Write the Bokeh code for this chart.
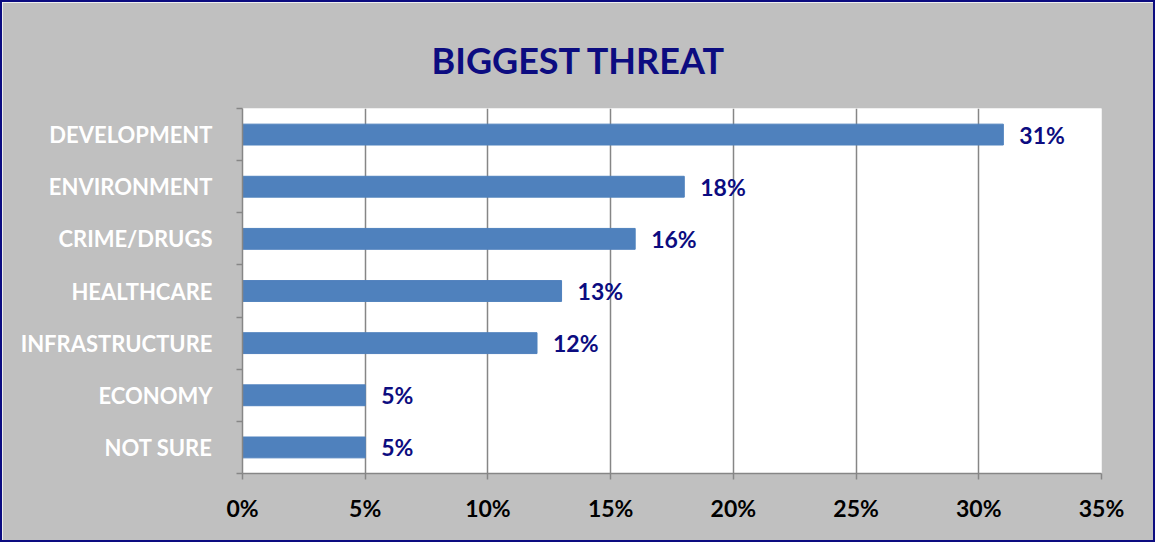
from bokeh.plotting import figure
from bokeh.layouts import column
from bokeh.models import FixedTicker, ColumnDataSource, NumeralTickFormatter
from bokeh.core.properties import value
from bokeh.embed import file_html
from bokeh.resources import INLINE

categories = ["DEVELOPMENT", "ENVIRONMENT", "CRIME/DRUGS", "HEALTHCARE", "INFRASTRUCTURE", "ECONOMY", "NOT SURE"]
shares = [0.31, 0.18, 0.16, 0.13, 0.12, 0.05, 0.05]
share_labels = ["31%", "18%", "16%", "13%", "12%", "5%", "5%"]
x_ticks = [0, 0.05, 0.10, 0.15, 0.20, 0.25, 0.30, 0.35]

FONT = "Lato"
n = len(categories)
centers = [n - i - 0.5 for i in range(n)]
boundaries = list(range(n + 1))

src = ColumnDataSource(dict(cat=categories, y=centers, v=shares, lab=share_labels))

B = 2  # chart border width
W, H = 1155 - 2 * B, 542 - 2 * B
BL, BR, BT, BB = 242 - B, 54 - B, 108 - B, 69 - B
p = figure(width=W, height=H, output_backend="svg", toolbar_location=None,
           x_range=(0, 0.35), y_range=(0, n),
           min_border_left=BL, min_border_right=BR, min_border_top=BT, min_border_bottom=BB,
           title="BIGGEST THREAT")
p.border_fill_color = "#C0C0C0"
p.background_fill_color = "white"
p.outline_line_color = None

p.title.align = "left"
p.title.offset = 189
p.title.standoff = 54
p.title.text_font = FONT
p.title.text_font_style = "bold"
p.title.text_font_size = "36px"
p.title.text_color = "#0C0C80"

p.hbar(y="y", right="v", left=0, height=0.4, source=src, color="#4F81BD")
p.text(x="v", y="y", text="lab", source=src, x_offset=16, text_align="left", text_baseline="middle",
       text_font=value(FONT), text_font_style="bold", text_font_size="23px", text_color="#0C0C80")

# x axis
p.xaxis.ticker = FixedTicker(ticks=x_ticks)
p.xaxis.formatter = NumeralTickFormatter(format="0%")
p.xaxis.axis_line_color = "#868686"
p.xaxis.axis_line_width = 1.5
p.xaxis.major_tick_line_color = "#868686"
p.xaxis.major_tick_line_width = 1.5
p.xaxis.major_tick_out = 6
p.xaxis.major_tick_in = 0
p.xaxis.minor_tick_line_color = None
p.xaxis.major_label_text_font = FONT
p.xaxis.major_label_text_font_style = "bold"
p.xaxis.major_label_text_font_size = "23px"
p.xaxis.major_label_text_color = "black"
p.xaxis.major_label_standoff = 14
p.xgrid.ticker = FixedTicker(ticks=x_ticks)
p.xgrid.grid_line_color = "#868686"
p.xgrid.grid_line_width = 1.5

# y axis
p.yaxis.ticker = FixedTicker(ticks=centers, minor_ticks=boundaries)
p.yaxis.major_label_overrides = {c: lab for c, lab in zip(centers, categories)}
p.yaxis.axis_line_color = "#868686"
p.yaxis.axis_line_width = 1.5
p.yaxis.major_tick_line_color = None
p.yaxis.minor_tick_line_color = "#868686"
p.yaxis.minor_tick_line_width = 1.5
p.yaxis.minor_tick_out = 6
p.yaxis.minor_tick_in = 0
p.yaxis.major_label_text_font = FONT
p.yaxis.major_label_text_font_style = "bold"
p.yaxis.major_label_text_font_size = "22px"
p.yaxis.major_label_text_color = "white"
p.yaxis.major_label_standoff = 24
p.ygrid.grid_line_color = None

layout = column(p, styles={"border": f"{B}px solid #0C0C80"})

open("out.html", "w").write(file_html(layout, INLINE))
